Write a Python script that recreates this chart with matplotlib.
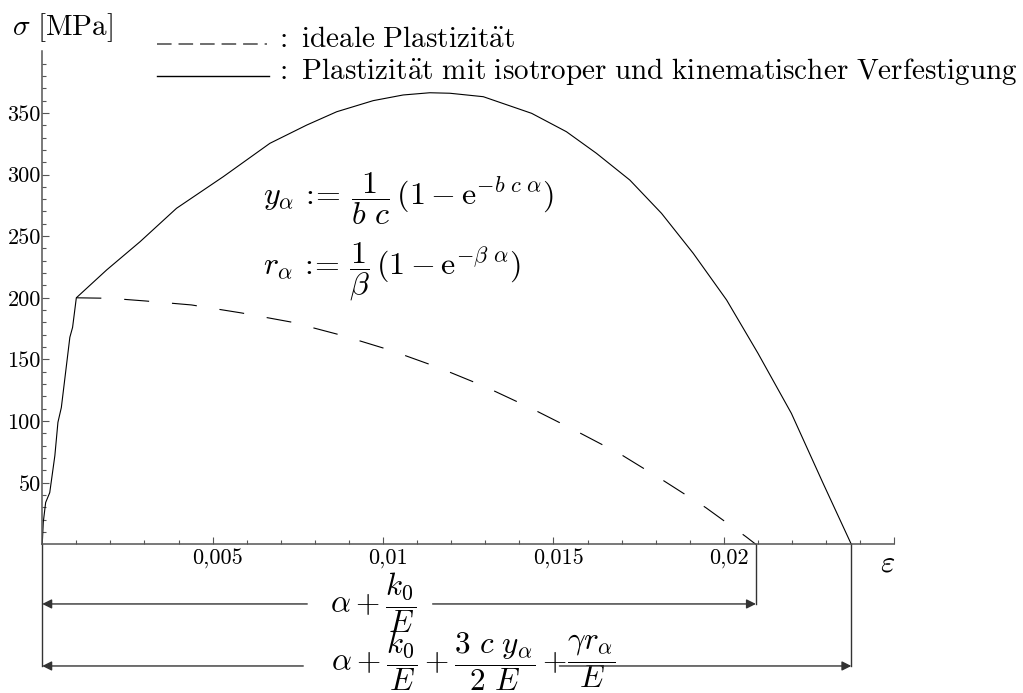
import numpy as np
import matplotlib
matplotlib.use('Agg')
import matplotlib.pyplot as plt
from matplotlib.transforms import ScaledTranslation

plt.rcParams['mathtext.fontset'] = 'cm'
plt.rcParams['lines.scale_dashes'] = False

# elastic branch up to the yield point
eps_el = [0.0, 0.00003, 0.0001, 0.00022, 0.00037, 0.00046, 0.00056, 0.00081, 0.00089, 0.001]
sig_el = [0.0, 18, 34, 42, 72, 99, 111, 168, 176, 200]

# isotropic + kinematic hardening
eps_hard = [0.001, 0.00189, 0.00287, 0.00394, 0.00531, 0.00668, 0.00776, 0.00864, 0.00971,
            0.01059, 0.01137, 0.01196, 0.01294, 0.01436, 0.01538, 0.01626, 0.01724, 0.01817,
            0.0191, 0.02008, 0.021, 0.02198, 0.02291, 0.02374]
sig_hard = [200, 222.6, 245.5, 272.6, 298.2, 325.3, 340.1, 350.9, 359.9,
            364.5, 366.3, 365.9, 363.1, 349.6, 334.7, 317.2, 295.5, 268.5,
            236.1, 198.2, 155.0, 106.3, 49.6, 0.0]

# ideal plasticity
eps_ideal = [0.001, 0.002, 0.00304, 0.00438, 0.00585, 0.00731, 0.00878, 0.01019, 0.01161,
             0.01297, 0.01433, 0.01565, 0.01697, 0.01823, 0.01947, 0.02065, 0.02094]
sig_ideal = [200, 199.6, 197.4, 194.2, 187.7, 180.3, 169.6, 157.7, 143.6,
             128.2, 110.6, 92.2, 73.1, 51.7, 29.8, 6.2, 0.0]

xticks = [0.005, 0.01, 0.015, 0.02, 0.025]
yticks = [50, 100, 150, 200, 250, 300, 350]

W, H = 1023, 693
fig = plt.figure(figsize=(W / 100, H / 100), dpi=100)
ax = fig.add_axes([42.25 / W, 1 - 544.4 / H, (894.3 - 42.25) / W, (544.4 - 51.2) / H])

grey = '#555555'
dark = '#333333'
eps_full = eps_el + eps_hard[1:]
sig_full = sig_el + sig_hard[1:]
ax.plot(eps_full, sig_full, color='black', lw=0.8, clip_on=False)
ax.plot(eps_ideal, sig_ideal, color='black', lw=0.8, ls=(0, (18, 16.5)), clip_on=False)

ax.set_xlim(0, 0.025)
ax.set_ylim(0, 400)
for s in ('top', 'right'):
    ax.spines[s].set_visible(False)
for s in ('left', 'bottom'):
    ax.spines[s].set_color(grey)
    ax.spines[s].set_linewidth(1.1)

ax.set_xticks(xticks, labels=[f'{v:g}'.replace('.', ',') if v < 0.025 else '' for v in xticks])
ax.set_yticks(yticks, labels=[str(v) for v in yticks])
ax.set_xticks(np.arange(0.001, 0.025, 0.001), minor=True)
ax.set_yticks(np.arange(10, 400, 10), minor=True)
ax.tick_params(which='both', direction='in', color=grey, width=0.8)
ax.tick_params(which='major', length=5)
ax.tick_params(which='minor', length=3)
ax.tick_params(axis='x', pad=3)
ax.tick_params(axis='y', pad=1)
shift = ScaledTranslation(5 / 100, 0, fig.dpi_scale_trans)
for lab in ax.get_xticklabels():
    lab.set_transform(lab.get_transform() + shift)
for lab in ax.get_xticklabels() + ax.get_yticklabels():
    lab.set_fontfamily('cmr10')
    lab.set_fontsize(16)

# axis labels
fig.text(12 / W, 1 - 35 / H, r'$\sigma\ [\mathrm{MPa}]$', fontsize=21, ha='left', va='baseline')
ax.text(0.0248, -15, r'$\varepsilon$', fontsize=22, ha='center', va='center')

# legend drawn by hand
fig.add_artist(plt.Line2D([157 / W, 267 / W], [1 - 44 / H, 1 - 44 / H], color=grey, lw=1.2,
                          ls=(0, (10.5, 5))))
fig.add_artist(plt.Line2D([157 / W, 269 / W], [1 - 76 / H, 1 - 76 / H], color='black', lw=1.0))
fig.text(279 / W, 1 - 47 / H, r'$\!:\ \mathrm{ideale\ Plastizit\ddot{a}t}$', fontsize=21, va='baseline')
fig.text(279 / W, 1 - 79 / H,
         r'$\!:\ \mathrm{Plastizit\ddot{a}t\ mit\ isotroper\ und\ kinematischer\ Verfestigung}$',
         fontsize=21, va='baseline')

# evolution laws
fig.text(263 / W, 1 - 199 / H,
         r'$y_\alpha\,:\!\!=\,\dfrac{1}{b\ c}\,(1-\mathrm{e}^{-b\ c\ \alpha})$',
         fontsize=23, ha='left', va='center')
fig.text(263 / W, 1 - 272 / H,
         r'$r_\alpha\,:\!\!=\,\dfrac{1}{\beta}\,(1-\mathrm{e}^{-\beta\ \alpha})$',
         fontsize=23, ha='left', va='center')

# strain dimension arrows below the axis
y1, y2 = -48.3, -98.6
end1, end2 = eps_ideal[-1], eps_hard[-1]
t1 = ax.text(0.00845, y1 + 1, r'$\alpha+\dfrac{k_0}{E}$', fontsize=22.5, ha='left', va='center',
             clip_on=False)
t2 = ax.text(0.00848, y2 + 4, r'$\alpha+\dfrac{k_0}{E}+\dfrac{3\ c\ y_\alpha}{2\ E}+$', fontsize=22.5,
             ha='left', va='center', clip_on=False)
ax.annotate(r'$\dfrac{\gamma r_\alpha}{E}$', xy=(1, 0.5), xycoords=t2, fontsize=22.5,
            ha='left', va='center', annotation_clip=False)

# the arrow lines stop short of the formula text
fig.canvas.draw()
rend = fig.canvas.get_renderer()
inv = ax.transData.inverted()


def gap(txt, left_px, right_px):
    bb = txt.get_window_extent(rend)
    return inv.transform((bb.x0 - left_px, 0))[0], inv.transform((bb.x1 + right_px, 0))[0]


arrow_kw = dict(arrowstyle='-|>', color=dark, lw=1.0, shrinkA=0, shrinkB=0, mutation_scale=14)
for y, end, (ga, gb) in ((y1, end1, gap(t1, 23, 16)), (y2, end2, gap(t2, 28, -8))):
    ax.annotate('', xy=(0, y), xytext=(ga, y), arrowprops=arrow_kw, annotation_clip=False)
    ax.annotate('', xy=(end, y), xytext=(gb, y), arrowprops=arrow_kw, annotation_clip=False)
ax.plot([0, 0], [0, y2], color=dark, lw=1.0, clip_on=False)
ax.plot([end1, end1], [0, y1], color=dark, lw=1.0, clip_on=False)
ax.plot([end2, end2], [0, y2], color=dark, lw=1.0, clip_on=False)

fig.savefig('out.png', dpi=100)
